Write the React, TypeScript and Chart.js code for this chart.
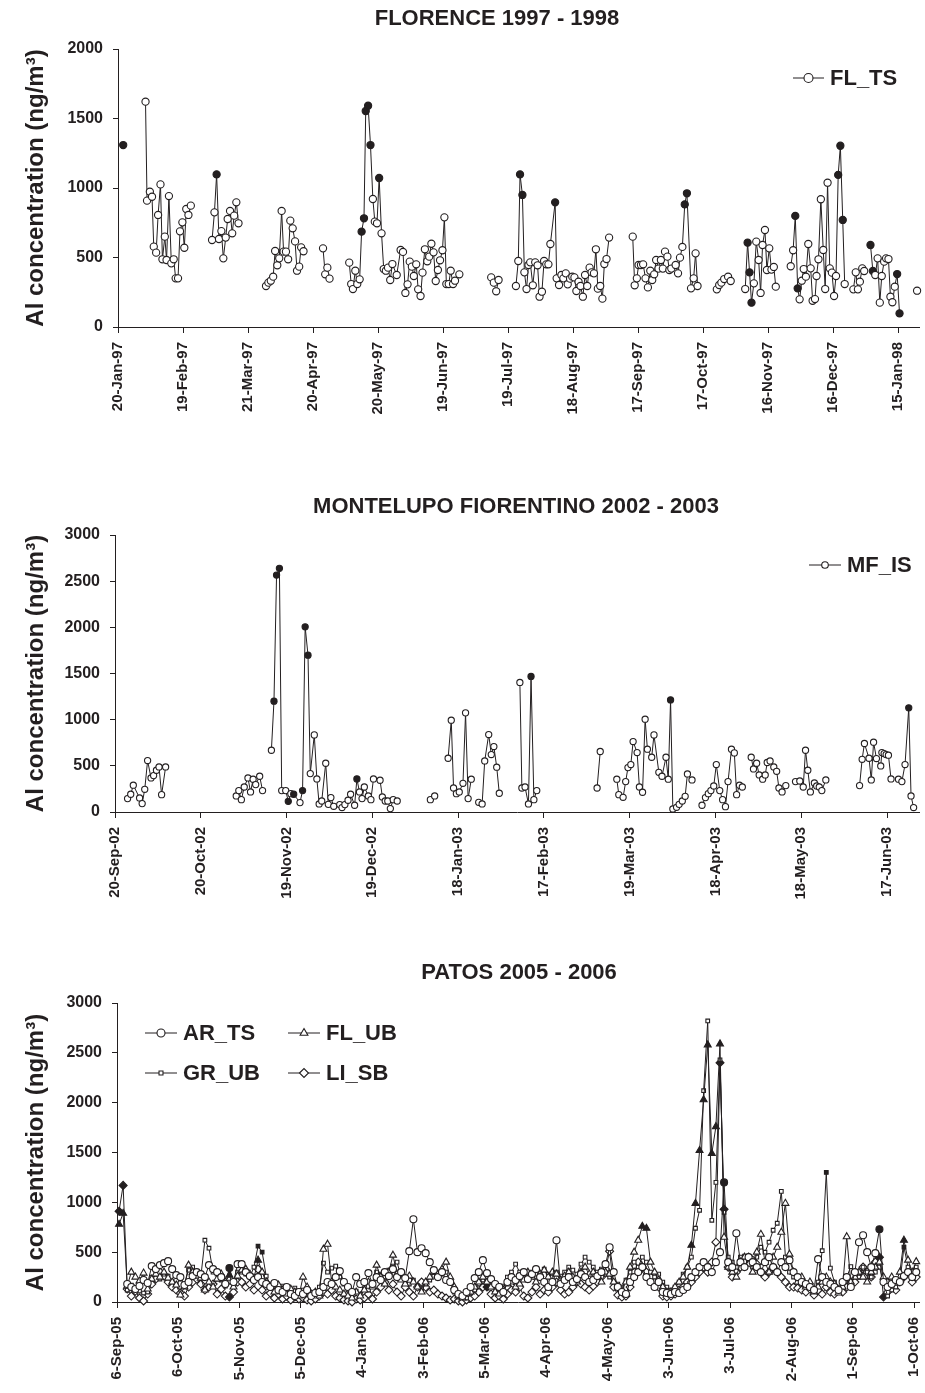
import React, { useEffect, useRef } from 'react';
import { Chart, registerables } from 'chart.js';
import { drawPoint } from 'chart.js/helpers';

Chart.register(...registerables);

const INK = '#231f20';
const FONT = "'Liberation Sans', Arial, Helvetica, sans-serif";
Chart.defaults.font.family = FONT;
Chart.defaults.color = INK;

const Y_TITLE = 'Al concentration (ng/m³)';

// ---------------- FLORENCE 1997 - 1998 (days after 20-Jan-97) ----------------
const FL_TICK_DAYS = [0, 30, 60, 90, 120, 150, 180, 210, 240, 270, 300, 330, 360];
const FL_TICK_LABELS = ['20-Jan-97', '19-Feb-97', '21-Mar-97', '20-Apr-97', '20-May-97', '19-Jun-97', '19-Jul-97',
  '18-Aug-97', '17-Sep-97', '17-Oct-97', '16-Nov-97', '16-Dec-97', '15-Jan-98'];
const FL_DAYS = [
  2.4,
  12.7, 13.4, 14.7, 15.7, 16.5, 17.6, 18.5, 19.6, 20.5, 21.6, 22.4, 23.5, 24.6, 25.7, 26.6, 27.7, 28.6, 29.7, 30.6, 31.5, 32.5, 33.6,
  43.4, 44.5, 45.5, 46.6, 47.7, 48.6, 49.7, 50.6, 51.7, 52.7, 53.6, 54.6, 55.6,
  68.3, 69.4, 70.5, 71.6, 72.5, 73.5, 74.4, 75.5, 76.4, 77.5, 78.5, 79.5, 80.6, 81.7, 82.6, 83.6, 84.5, 85.6,
  94.6, 95.6, 96.6, 97.6,
  106.7, 107.6, 108.4, 109.5, 110.4, 111.5, 112.4, 113.5, 114.3, 115.4, 116.5, 117.6, 118.5, 119.5, 120.5,
  121.6, 122.6, 123.6, 124.6, 125.6, 126.6, 128.6,
  130.4, 131.5, 132.6, 133.6, 134.6, 135.6, 136.5, 137.6, 138.5, 139.6, 140.5, 141.6, 142.7, 143.6, 144.6, 145.6,
  146.6, 147.6, 148.6, 149.7, 150.6, 151.5, 152.6, 153.5, 154.6, 155.5, 157.5,
  172.2, 173.4, 174.5, 175.6,
  183.6, 184.7, 185.5, 186.6, 187.5, 188.5, 189.4, 190.2, 191.4, 192.5, 193.6, 194.5, 195.6, 196.6, 197.6, 198.6, 199.5,
  201.7, 202.4, 203.5, 204.6, 205.5, 206.6, 207.5, 208.6, 209.6, 210.6, 211.5, 212.5, 213.4, 214.5, 215.5, 216.5,
  217.6, 218.5, 219.6, 220.5, 221.4, 222.5, 223.5, 224.4, 225.4, 226.6,
  237.5, 238.4, 239.4, 240.2, 241.3, 242.3, 243.4, 244.5, 245.6, 246.5, 247.4, 248.3, 249.4, 250.5, 251.4, 252.4,
  253.5, 254.4, 255.3, 257.3, 258.4, 259.3, 260.4, 261.5, 262.5,
  264.4, 265.6, 266.5, 267.4,
  276.3, 277.4, 278.4, 279.7, 281.5, 282.7,
  289.4, 290.5, 291.4, 292.3, 293.4, 294.5, 295.6, 296.5, 297.4, 298.5, 299.4, 300.5, 301.5, 302.6, 303.5,
  310.4, 311.5, 312.5, 313.6, 314.5, 315.5, 316.4, 317.4, 318.5, 319.6, 320.5, 321.6, 322.3, 323.2, 324.3, 325.4,
  326.3, 327.4, 328.4, 329.4, 330.4, 331.3, 332.3, 333.3, 334.4, 335.3,
  339.3, 340.4, 341.4, 342.3, 343.4, 344.3, 347.2, 348.3, 349.4, 350.5, 351.5, 352.4, 353.5, 354.4, 355.5, 356.4,
  357.3, 358.4, 359.5, 360.6,
  368.7,
];
const FL_AL = [
  1309,
  1621, 909, 973, 937, 578, 535, 806, 1026, 487, 650, 482, 942, 458, 487, 350, 350, 688, 753, 570, 849, 806, 873,
  626, 825, 1098, 633, 690, 494, 643, 777, 835, 674, 801, 897, 746,
  295, 319, 333, 362, 547, 444, 494, 835, 542, 542, 487, 765, 710, 616, 405, 434, 573, 545,
  566, 379, 427, 348,
  463, 309, 273, 405, 309, 343, 686, 782, 1554, 1592, 1309, 921, 758, 746, 1072,
  674, 417, 405, 427, 338, 453, 374,
  554, 540, 245, 307, 470, 434, 367, 451, 271, 223, 391, 559, 473, 506, 599, 537,
  331, 410, 480, 552, 789, 309, 309, 405, 309, 333, 379,
  357, 319, 257, 338,
  295, 475, 1098, 950, 393, 273, 446, 465, 300, 465, 444, 218, 254, 475, 451, 451, 597,
  897, 350, 302, 374, 350, 386, 307, 348, 362, 357, 259, 326, 295, 218, 374, 295,
  427, 393, 386, 559, 276, 295, 204, 453, 489, 643,
  650, 300, 350, 446, 446, 451, 350, 285, 405, 338, 379, 482, 420, 482, 420, 542,
  506, 410, 420, 446, 386, 499, 576, 882, 962,
  278, 350, 530, 295,
  271, 302, 319, 345, 362, 331,
  273, 607, 393, 175, 314, 614, 482, 245, 590, 698, 410, 566, 413, 432, 290,
  437, 552, 799, 278, 199, 333, 417, 362, 597, 422, 189, 201, 367, 487, 919, 554,
  273, 1038, 422, 391, 223, 367, 1094, 1304, 770, 309,
  271, 393, 271, 326, 422, 403, 590, 403, 374, 494, 175, 367, 470, 494, 489, 218,
  178, 290, 381, 98,
  261,
];
const FL_FILLED = [2.4, 45.5, 112.4, 113.5, 114.3, 115.4, 116.5, 120.5, 185.5, 186.6, 201.7, 261.5, 262.5,
  290.5, 291.4, 292.3, 312.5, 313.6, 332.3, 333.3, 334.4, 347.2, 348.3, 359.5, 360.6];

// ---------------- MONTELUPO FIORENTINO 2002 - 2003 (days after 20-Sep-02) ----------------
const MF_TICK_DAYS = [0, 30, 60, 90, 120, 150, 180, 210, 240, 270];
const MF_TICK_LABELS = ['20-Sep-02', '20-Oct-02', '19-Nov-02', '19-Dec-02', '18-Jan-03', '17-Feb-03', '19-Mar-03',
  '18-Apr-03', '18-May-03', '17-Jun-03'];
const MF_DAYS = [
  4.4, 5.5, 6.4, 8.6, 9.5, 10.4, 11.4, 12.6, 13.5, 14.5, 15.4, 16.3, 17.7,
  42.4, 43.3, 44.2, 45.2, 46.5, 47.4, 48.3, 49.2, 50.6, 51.6,
  54.7, 55.6, 56.5, 57.5, 58.3, 59.7, 60.6, 61.5, 62.5, 64.7, 65.6, 66.5, 67.5, 68.3, 69.7, 70.6, 71.4, 72.3,
  73.7, 74.6, 75.5, 76.5, 78.6, 79.4, 80.4, 81.5, 82.4, 83.8, 84.6, 85.5, 86.4, 87.2, 88.6, 89.5, 90.4, 92.7,
  93.5, 94.5, 95.4, 96.3, 97.3, 98.7,
  110.3, 111.8,
  116.5, 117.6, 118.4, 119.4, 120.4, 121.7, 122.6, 123.5, 124.6,
  127.2, 128.4, 129.3, 130.7, 131.6, 132.5, 133.5, 134.4,
  141.6, 142.3, 143.4, 144.6, 145.5, 146.5, 147.5,
  168.6, 169.7,
  175.5, 176.2, 177.7, 178.6, 179.4, 180.4, 181.2, 182.6, 183.4, 184.5, 185.4, 186.2, 187.7, 188.5, 190.2, 191.3,
  192.7, 193.5, 194.3, 195.1, 196.4, 197.3, 198.4, 199.4, 200.2, 201.8,
  205.3, 206.5, 207.5, 208.4, 209.4, 210.3, 211.5, 212.5, 213.5, 214.4, 215.6, 216.6, 217.4, 218.4, 219.4,
  222.5, 223.3, 224.4, 225.3, 226.5, 227.4, 228.1, 229.1, 230.4, 231.4, 232.2, 233.3, 234.6,
  238.0, 239.5, 240.7, 241.5, 242.3, 243.2, 244.6, 245.4, 246.3, 247.2, 248.6,
  260.4, 261.3, 262.1, 263.7, 264.5, 265.3, 266.3, 267.8, 268.2, 269.0, 269.7, 270.5, 271.4,
  274.0, 275.2, 276.3, 277.6, 278.4, 279.3,
];
const MF_AL = [
  145, 192, 290, 152, 91, 246, 557, 369, 394, 452, 488, 188, 488,
  174, 232, 134, 271, 369, 217, 355, 297, 387, 232,
  669, 1200, 2566, 2639, 232, 232, 116, 199, 192, 102, 232, 2006, 1699, 416, 835, 358, 87, 119,
  528, 83, 156, 62, 80, 48, 80, 127, 192, 73, 358, 217, 145, 271, 174, 134, 358, 344,
  163, 119, 119, 37, 134, 119,
  134, 174,
  582, 994, 260, 199, 217, 311, 1074, 145, 355,
  105, 87, 553, 839, 622, 709, 485, 203,
  1403, 260, 271, 87, 1468, 134, 232,
  260, 655,
  355, 188, 159, 329, 481, 514, 763, 644, 271, 214, 1005, 680, 593, 835, 430, 387,
  593, 355, 1214, 33, 51, 83, 119, 170, 412, 347,
  73, 156, 199, 232, 282, 514, 232, 134, 58, 329, 680, 640, 188, 290, 271,
  593, 466, 528, 401, 355, 401, 536, 553, 488, 441, 260, 217, 286,
  329, 336, 271, 669, 452, 217, 314, 282, 271, 232, 347,
  286, 571, 742, 582, 347, 756, 579, 499, 644, 633, 622, 615, 358,
  355, 329, 514, 1128, 174, 48,
];
const MF_FILLED = [55.6, 56.5, 57.5, 60.6, 62.5, 65.6, 66.5, 67.5, 84.6, 145.5, 194.3, 277.6];

// ---------------- PATOS 2005 - 2006 (days after 6-Sep-05) ----------------
const PT_TICK_DAYS = [0, 30, 60, 90, 120, 150, 180, 210, 240, 270, 300, 330, 360, 390];
const PT_TICK_LABELS = ['6-Sep-05', '6-Oct-05', '5-Nov-05', '5-Dec-05', '4-Jan-06', '3-Feb-06', '5-Mar-06',
  '4-Apr-06', '4-May-06', '3-Jun-06', '3-Jul-06', '2-Aug-06', '1-Sep-06', '1-Oct-06'];
const PT_DAYS = [
  1, 3, 5, 7, 9, 11, 13, 15, 17, 19, 21, 23, 25, 27, 29,
  31, 33, 35, 37, 39, 41, 43, 45, 47, 49, 51, 53, 55, 57, 59,
  61, 63, 65, 67, 69, 71, 73, 75, 77, 79, 81, 83, 85, 87, 89,
  91, 93, 95, 97, 99, 101, 103, 105, 107, 109, 111, 113, 115, 117, 119,
  121, 123, 125, 127, 129, 131, 133, 135, 137, 139, 141, 143, 145, 147, 149,
  151, 153, 155, 157, 159, 161, 163, 165, 167, 169, 171, 173, 175, 177, 179,
  181, 183, 185, 187, 189, 191, 193, 195, 197, 199, 201, 203, 205, 207, 209,
  211, 213, 215, 217, 219, 221, 223, 225, 227, 229, 231, 233, 235, 237, 239,
  241, 243, 245, 247, 249, 251, 253, 255, 257, 259, 261, 263, 265, 267, 269,
  271, 273, 275, 277, 279, 281, 283, 285, 287, 289, 291, 293, 295, 297, 299,
  301, 303, 305, 307, 309, 311, 313, 315, 317, 319, 321, 323, 325, 327, 329,
  331, 333, 335, 337, 339, 341, 343, 345, 347, 349, 351, 353, 355, 357, 359,
  361, 363, 365, 367, 369, 371, 373, 375, 377, 379, 381, 383, 385, 387, 389,
  391,
];
const AR_TS = [
  null, null, 180, 150, 130, 160, 220, 190, 360, 330, 370, 390, 410, 330, 270,
  250, 170, 200, 260, 300, 280, 250, 370, 330, 300, 250, 180, 340, 200, 380,
  380, 300, 260, 220, 250, 200, 180, 150, 190, 120, 100, 150, 80, 60, 100,
  80, 120, 60, 90, 100, 150, 200, 180, 250, 310, 200, 150, 100, 250, 180,
  200, 290, 180, 250, 220, 300, 260, 330, 250, 300, 240, 510, 830, 500, 540,
  490, 400, 320, 250, 300, 220, 200, 120, 80, 60, 100, 150, 240, 300, 420,
  290, 230, 180, 150, 100, 200, 250, 220, 260, 300, 230, 280, 330, 250, 200,
  150, 200, 620, 180, 220, 250, 200, 230, 280, 250, 200, 220, 260, 300, 380,
  550, 300, 150, 100, 80, 200, 250, 300, 350, 250, 200, 150, 200, 100, 90,
  80, 100, 90, 120, 150, 250, 300, 350, 400, 350, 300, 400, 500, 1200, 400,
  350, 690, 400, 350, 450, 400, 350, 300, 400, 450, 350, 300, 400, 350, 420,
  300, 250, 200, 180, 150, 120, 430, 250, 200, 180, 150, 120, 200, 250, 150,
  300, 600, 670, 500, 350, 490, 730, 200, 150, 180, 220, 200, 260, 300, 250,
  300,
];
const FL_UB = [
  780, 890, 160, 300, 250, 210, 290, 130, 230, 280, 250, 300, 240, 200, 170,
  70, 150, 370, 300, 260, 240, 120, 200, 150, 230, 280, 200, 270, 150, 260,
  320, 330, 280, 240, 420, 300, 200, 150, 100, 170, 120, 80, 130, 100, 60,
  250, 150, 80, 100, 60, 530, 580, 200, 150, 120, 80, 60, 40, 100, 60,
  120, 200, 150, 370, 250, 180, 300, 470, 280, 220, 180, 260, 200, 150, 100,
  200, 250, 300, 280, 330, 400, 250, 150, 60, 40, 80, 100, 150, 200, 250,
  200, 150, 100, 80, 120, 180, 200, 150, 180, 220, 300, 250, 200, 280, 320,
  250, 300, 280, 220, 260, 300, 250, 200, 300, 350, 280, 300, 250, 200, 300,
  280, 200, 150, 120, 200, 350, 500, 620, 760, 740, 400, 300, 220, 150, 100,
  100, 150, 200, 250, 350, 570, 990, 1520, 2030, 2580, 1490, 1760, 2590, 650, 350,
  300, 250, 400, 450, 380, 300, 500, 680, 400, 300, 450, 550, 700, 990, 480,
  300, 200, 250, 150, 200, 100, 150, 200, 250, 200, 180, 90, 150, 655, 200,
  250, 300, 250, 200, 300, 350, 400, 250, 200, 250, 200, 300, 620, 420, 300,
  405,
];
const GR_UB = [
  null, null, 120, 170, 140, 110, 90, 100, 250, 300, 230, 280, 260, 210, 180,
  230, 180, 320, 350, 300, 250, 620, 540, 300, 280, 220, 160, 200, 180, 300,
  300, 280, 250, 350, 560, 500, 260, 180, 150, 120, 160, 100, 90, 140, 110,
  120, 90, 60, 80, 150, 390, 300, 340, 360, 250, 180, 120, 90, 110, 80,
  150, 120, 200, 300, 280, 250, 320, 360, 400, 250, 200, 180, 220, 160, 130,
  180, 220, 260, 240, 280, 300, 200, 100, 50, 70, 40, 90, 120, 180, 220,
  250, 200, 150, 120, 160, 250, 300, 380, 300, 260, 220, 300, 280, 250, 330,
  280, 250, 300, 260, 300, 350, 320, 280, 380, 450, 400, 350, 300, 330, 280,
  250, 200, 180, 150, 220, 300, 400, 350, 450, 400, 300, 250, 280, 200, 150,
  120, 150, 200, 280, 350, 450, 740, 920, 2120, 2820, 820, 1200, 2430, 900, 450,
  400, 350, 450, 460, 400, 350, 450, 550, 500, 600, 720, 790, 1110, 450, 300,
  250, 200, 220, 180, 150, 130, 200, 515, 1300, 340, 200, 150, 180, 250, 355,
  300, 250, 350, 300, 250, 300, 350, 200, 60, 120, 150, 200, 550, 350, 250,
  350,
];
const LI_SB = [
  910, 1170, 130, 60, 110, 40, 10, 80, 180, 230, 300, 260, 200, 150, 120,
  90, 60, 150, 200, 230, 180, 120, 150, 180, 80, 130, 60, 50, 100, 200,
  200, 150, 180, 120, 330, 120, 60, 90, 40, 80, 30, 60, 20, 50, 30,
  40, 20, 10, 30, 60, 100, 80, 120, 60, 40, 20, 10, 0, 30, 20,
  40, 80, 30, 100, 150, 200, 120, 180, 100, 60, 150, 100, 60, 150, 200,
  150, 100, 120, 80, 60, 40, 20, 30, 10, 0, 20, 40, 60, 100, 150,
  150, 80, 40, 60, 30, 80, 120, 100, 150, 60, 40, 100, 150, 80, 120,
  100, 150, 200, 120, 80, 100, 150, 200, 180, 150, 120, 160, 200, 250, 330,
  510, 150, 70, 50, 60, 150, 300, 400, 350, 300, 250, 200, 150, 60, 50,
  60, 80, 120, 150, 200, 200, 250, 300, 350, 300, 400, 600, 2400, 930, 350,
  250, 300, 350, 400, 450, 420, 380, 300, 250, 300, 350, 300, 250, 200, 150,
  150, 140, 120, 100, 130, 70, 120, 80, 150, 100, 80, 120, 100, 150, 200,
  200, 290, 350, 300, 250, 400, 450, 50, 100, 150, 120, 200, 250, 300, 200,
  250,
];
const AR_FILLED = [55, 297, 373];
const FLUB_FILLED = [1, 3, 55, 69, 257, 259, 281, 283, 285, 287, 289, 291, 293, 295, 385];
const GR_FILLED = [69, 71, 347, 385];
const LI_FILLED = [1, 3, 55, 181, 295, 297, 373, 375];

// ---------------- helpers ----------------
type LegendItem = { label: string; x: number; y: number; len: number; style: string; radius: number };

const pts = (days: number[], vals: (number | null)[]) => days.map((d, i) => ({ x: d, y: vals[i] }));
const fills = (days: number[], flagged: number[]) => days.map((d) => (flagged.includes(d) ? INK : '#ffffff'));

function series(label: string, days: number[], vals: (number | null)[], flagged: number[], style: string, radius: number) {
  return {
    label,
    data: pts(days, vals),
    borderColor: INK,
    borderWidth: 1,
    pointStyle: style,
    pointRadius: radius,
    pointBorderWidth: 1.1,
    pointBorderColor: INK,
    pointBackgroundColor: fills(days, flagged),
    spanGaps: 2.5,
    tension: 0,
    clip: false,
  };
}

function decor(title: string, tx: number, ty: number, legend: LegendItem[]) {
  return {
    id: 'decor',
    afterDraw(chart: any) {
      const ctx = chart.ctx as CanvasRenderingContext2D;
      ctx.save();
      ctx.fillStyle = INK;
      ctx.font = `bold 22px ${FONT}`;
      ctx.textAlign = 'center';
      ctx.textBaseline = 'middle';
      ctx.fillText(title, tx, ty);
      for (const it of legend) {
        ctx.strokeStyle = INK;
        ctx.lineWidth = 1;
        ctx.beginPath();
        ctx.moveTo(it.x, it.y);
        ctx.lineTo(it.x + it.len, it.y);
        ctx.stroke();
        ctx.fillStyle = '#ffffff';
        ctx.lineWidth = 1.1;
        drawPoint(ctx, { pointStyle: it.style as any, radius: it.radius, borderWidth: 1.1, rotation: 0 }, it.x + it.len / 2, it.y);
        ctx.fillStyle = INK;
        ctx.textAlign = 'left';
        ctx.textBaseline = 'middle';
        ctx.font = `bold 22px ${FONT}`;
        ctx.fillText(it.label, it.x + it.len + 6, it.y + 1);
      }
      ctx.restore();
    },
  };
}

function buildConfig(p: {
  datasets: any[]; yMax: number; xMax: number; tickDays: number[]; tickLabels: string[];
  yWidth: number; xHeight: number; padTop: number; plugin: any;
}) {
  return {
    type: 'line',
    data: { datasets: p.datasets },
    options: {
      responsive: false,
      maintainAspectRatio: false,
      animation: false,
      events: [],
      layout: { padding: { top: p.padTop, left: 0, right: 0, bottom: 0 } },
      plugins: { legend: { display: false }, tooltip: { enabled: false }, title: { display: false } },
      scales: {
        x: {
          type: 'linear',
          min: 0,
          max: p.xMax,
          grid: { display: true, drawOnChartArea: false, drawTicks: true, tickLength: 6, color: INK, lineWidth: 1 },
          border: { display: true, color: INK, width: 1 },
          ticks: {
            autoSkip: false,
            minRotation: 90,
            maxRotation: 90,
            padding: 9,
            color: INK,
            font: { size: 15, weight: 'bold', family: FONT },
            callback: (_v: any, i: number) => p.tickLabels[i],
          },
          afterBuildTicks: (s: any) => {
            s.ticks = p.tickDays.map((v) => ({ value: v }));
          },
          afterFit: (s: any) => {
            s.height = p.xHeight;
            s.paddingLeft = 0;
            s.paddingRight = 0;
          },
        },
        y: {
          type: 'linear',
          min: 0,
          max: p.yMax,
          grid: { display: true, drawOnChartArea: false, drawTicks: true, tickLength: 5, color: INK, lineWidth: 1 },
          border: { display: true, color: INK, width: 1 },
          ticks: {
            stepSize: 500,
            padding: 10,
            color: INK,
            font: { size: 16, weight: 'bold', family: FONT },
            callback: (v: any) => String(v),
          },
          title: {
            display: true,
            text: Y_TITLE,
            color: INK,
            font: { size: 24, weight: 'bold', family: FONT, lineHeight: 1.2 },
            padding: { top: 22, bottom: 0 },
          },
          afterFit: (s: any) => {
            s.width = p.yWidth;
            s.paddingTop = 0;
            s.paddingBottom = 0;
          },
        },
      },
    },
    plugins: [p.plugin],
  };
}

function Panel({ top, height, build }: { top: number; height: number; build: () => any }) {
  const ref = useRef<HTMLCanvasElement | null>(null);
  useEffect(() => {
    const chart = new Chart(ref.current as HTMLCanvasElement, build());
    return () => chart.destroy();
  }, []);
  return (
    <canvas
      ref={ref}
      width={925}
      height={height}
      style={{ position: 'absolute', left: 0, top, width: 925, height, display: 'block' }}
    />
  );
}

const buildFlorence = () =>
  buildConfig({
    datasets: [series('FL_TS', FL_DAYS, FL_AL, FL_FILLED, 'circle', 3.6)],
    yMax: 2000, xMax: 370, tickDays: FL_TICK_DAYS, tickLabels: FL_TICK_LABELS,
    yWidth: 118, xHeight: 113, padTop: 49,
    plugin: decor('FLORENCE 1997 - 1998', 497, 19, [
      { label: 'FL_TS', x: 793, y: 78, len: 31, style: 'circle', radius: 4.5 },
    ]),
  });

const buildMontelupo = () =>
  buildConfig({
    datasets: [series('MF_IS', MF_DAYS, MF_AL, MF_FILLED, 'circle', 3.1)],
    yMax: 3000, xMax: 281.5, tickDays: MF_TICK_DAYS, tickLabels: MF_TICK_LABELS,
    yWidth: 115, xHeight: 98, padTop: 95,
    plugin: decor('MONTELUPO FIORENTINO 2002 - 2003', 516, 67, [
      { label: 'MF_IS', x: 809, y: 125, len: 32, style: 'circle', radius: 3.3 },
    ]),
  });

const buildPatos = () =>
  buildConfig({
    datasets: [
      series('AR_TS', PT_DAYS, AR_TS, AR_FILLED, 'circle', 3.5),
      series('FL_UB', PT_DAYS, FL_UB, FLUB_FILLED, 'triangle', 4),
      series('GR_UB', PT_DAYS, GR_UB, GR_FILLED, 'rect', 2.6),
      series('LI_SB', PT_DAYS, LI_SB, LI_FILLED, 'rectRot', 4),
    ],
    yMax: 3000, xMax: 392.8, tickDays: PT_TICK_DAYS, tickLabels: PT_TICK_LABELS,
    yWidth: 117, xHeight: 91, padTop: 93,
    plugin: decor('PATOS 2005 - 2006', 519, 63, [
      { label: 'AR_TS', x: 145, y: 123, len: 32, style: 'circle', radius: 4 },
      { label: 'FL_UB', x: 288, y: 123, len: 32, style: 'triangle', radius: 4.5 },
      { label: 'GR_UB', x: 145, y: 163, len: 32, style: 'rect', radius: 2.8 },
      { label: 'LI_SB', x: 288, y: 163, len: 32, style: 'rectRot', radius: 4.5 },
    ]),
  });

export default function App() {
  return (
    <div
      style={{
        position: 'absolute', left: 0, top: 0, width: 925, height: 1393,
        overflow: 'hidden', background: '#ffffff',
      }}
    >
      <Panel top={0} height={440} build={buildFlorence} />
      <Panel top={440} height={470} build={buildMontelupo} />
      <Panel top={910} height={483} build={buildPatos} />
    </div>
  );
}
